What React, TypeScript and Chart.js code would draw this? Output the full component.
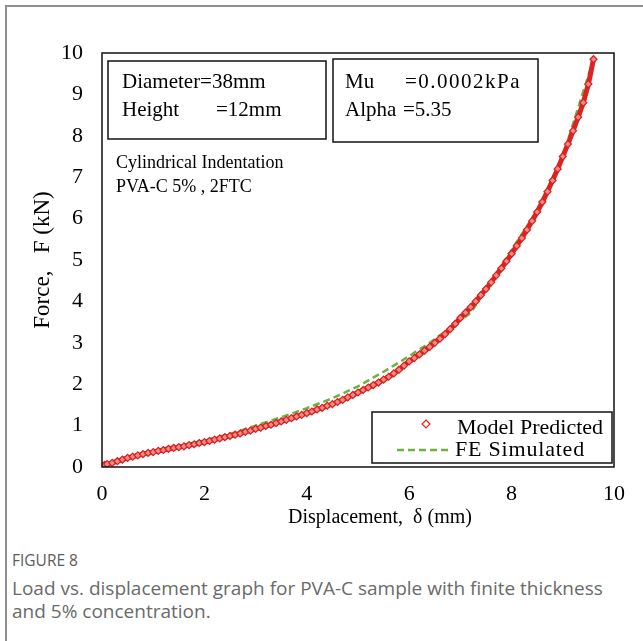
import React, { useEffect, useRef } from 'react';
import { Chart, registerables } from 'chart.js';

Chart.register(...registerables);

// Model Predicted (red diamonds)
const modelX = [0, 0.05, 0.1, 0.2, 0.3, 0.4, 0.5, 0.6, 0.7, 0.8, 0.9, 1.0, 1.1, 1.2, 1.3, 1.4, 1.5, 1.6, 1.7, 1.8, 1.9, 2.0, 2.1, 2.2, 2.3, 2.4, 2.5, 2.6, 2.7, 2.8, 2.9, 3.0, 3.1, 3.2, 3.3, 3.4, 3.5, 3.6, 3.7, 3.8, 3.9, 4.0, 4.1, 4.2, 4.3, 4.4, 4.5, 4.6, 4.7, 4.8, 4.9, 5.0, 5.1, 5.2, 5.3, 5.4, 5.5, 5.6, 5.7, 5.8, 5.9, 6.0, 6.1, 6.2, 6.3, 6.4, 6.5, 6.6, 6.7, 6.8, 6.9, 7.0, 7.1, 7.2, 7.3, 7.4, 7.5, 7.6, 7.7, 7.8, 7.9, 8.0, 8.1, 8.2, 8.3, 8.4, 8.5, 8.6, 8.7, 8.8, 8.9, 9.0, 9.1, 9.2, 9.3, 9.4, 9.5, 9.6];
const modelY = [0.02, 0.05, 0.07, 0.1, 0.14, 0.18, 0.22, 0.25, 0.28, 0.31, 0.34, 0.36, 0.39, 0.41, 0.44, 0.46, 0.48, 0.5, 0.53, 0.55, 0.58, 0.6, 0.63, 0.66, 0.69, 0.72, 0.75, 0.78, 0.81, 0.85, 0.88, 0.92, 0.95, 0.99, 1.02, 1.06, 1.1, 1.14, 1.18, 1.22, 1.26, 1.3, 1.34, 1.39, 1.43, 1.48, 1.52, 1.57, 1.62, 1.68, 1.74, 1.8, 1.86, 1.92, 1.98, 2.04, 2.11, 2.18, 2.26, 2.35, 2.45, 2.55, 2.63, 2.72, 2.81, 2.9, 3.0, 3.1, 3.21, 3.33, 3.46, 3.6, 3.73, 3.86, 4.0, 4.15, 4.3, 4.46, 4.63, 4.8, 4.97, 5.15, 5.34, 5.53, 5.73, 5.94, 6.16, 6.4, 6.65, 6.92, 7.2, 7.5, 7.8, 8.12, 8.45, 8.8, 9.25, 9.85];

// FE Simulated (green dashed)
const feX = [0, 0.5, 1.0, 1.5, 2.0, 2.5, 3.0, 3.5, 4.0, 4.5, 5.0, 5.5, 6.0, 6.4, 7.2, 8.5, 9.0, 9.6];
const feY = [0, 0.2, 0.36, 0.5, 0.64, 0.8, 1.0, 1.2, 1.42, 1.66, 1.95, 2.3, 2.68, 3.0, 3.72, 6.2, 7.5, 9.85];

const xTicks = [0, 2, 4, 6, 8, 10];
const yTicks = [0, 1, 2, 3, 4, 5, 6, 7, 8, 9, 10];

const seriesNames = ['Model Predicted', 'FE Simulated'];
const xTitle = 'Displacement,  \u03b4 (mm)';
const yTitle = 'Force,   F (kN)';
const boxLeftLines = [['Diameter=38mm', ''], ['Height', '=12mm']];
const boxRightLines = [['Mu', '=0.0002kPa'], ['Alpha', '=5.35']];
const noteLines = ['Cylindrical Indentation', 'PVA-C 5% , 2FTC'];

const SERIF = '"Liberation Serif", "Times New Roman", serif';
const RED = '#dd2320';
const GREEN = '#6fb043';

const annotPlugin = {
  id: 'annot',
  afterDatasetsDraw(chart: any) {
    const { ctx, chartArea: a } = chart;
    ctx.save();
    // plot frame
    ctx.strokeStyle = '#111';
    ctx.lineWidth = 1.5;
    ctx.strokeRect(a.left, a.top, a.right - a.left, a.bottom - a.top);

    // box 1
    ctx.fillStyle = '#fff';
    ctx.fillRect(108, 61, 218, 78);
    ctx.strokeRect(108, 61, 218, 78);
    // box 2
    ctx.fillRect(333, 59, 205, 83);
    ctx.strokeRect(333, 59, 205, 83);

    ctx.fillStyle = '#000';
    ctx.textBaseline = 'middle';
    ctx.textAlign = 'left';
    ctx.font = `21px ${SERIF}`;
    ctx.fillText(boxLeftLines[0][0], 122, 82);
    ctx.fillText(boxLeftLines[1][0], 122, 110);
    ctx.fillText(boxLeftLines[1][1], 216, 110);
    ctx.fillText(boxRightLines[0][0], 345, 82);
    ctx.fillText(boxRightLines[1][0], 345, 110);
    ctx.fillText(boxRightLines[1][1], 403, 110);
    (ctx as any).letterSpacing = '1.5px';
    ctx.fillText(boxRightLines[0][1], 405, 82);
    (ctx as any).letterSpacing = '0px';

    ctx.font = `18px ${SERIF}`;
    ctx.fillText(noteLines[0], 116, 163);
    ctx.fillText(noteLines[1], 116, 187);

    // legend
    ctx.fillStyle = '#fff';
    ctx.fillRect(372, 412, 240, 51);
    ctx.strokeStyle = '#111';
    ctx.lineWidth = 1.5;
    ctx.strokeRect(372, 412, 240, 51);
    // diamond marker
    ctx.strokeStyle = RED;
    ctx.lineWidth = 1.2;
    ctx.beginPath();
    ctx.moveTo(426, 420);
    ctx.lineTo(430, 424);
    ctx.lineTo(426, 428);
    ctx.lineTo(422, 424);
    ctx.closePath();
    ctx.stroke();
    // dashed line
    ctx.strokeStyle = GREEN;
    ctx.lineWidth = 2.5;
    ctx.setLineDash([7, 4]);
    ctx.beginPath();
    ctx.moveTo(397, 450);
    ctx.lineTo(452, 450);
    ctx.stroke();
    ctx.setLineDash([]);

    ctx.fillStyle = '#000';
    ctx.font = `22px ${SERIF}`;
    ctx.fillText(seriesNames[0], 457, 428);
    (ctx as any).letterSpacing = '0.8px';
    ctx.fillText(seriesNames[1], 455, 450);
    (ctx as any).letterSpacing = '0px';

    // axis titles
    ctx.textAlign = 'center';
    ctx.font = `20px ${SERIF}`;
    ctx.fillText(xTitle, 380, 518);
    ctx.font = `23px ${SERIF}`;
    ctx.translate(43, 260);
    ctx.rotate(-Math.PI / 2);
    ctx.fillText(yTitle, 0, 0);
    ctx.restore();
  },
};

function ChartCanvas() {
  const ref = useRef<HTMLCanvasElement | null>(null);
  useEffect(() => {
    if (!ref.current) return;
    const chart = new Chart(ref.current, {
      type: 'scatter',
      data: {
        datasets: [
          {
            label: seriesNames[0],
            data: modelX.map((x, i) => ({ x, y: modelY[i] })),
            showLine: true,
            borderColor: RED,
            borderWidth: 5,
            pointStyle: 'rectRot',
            pointRadius: 3.5,
            pointBorderWidth: 1.2,
            pointBorderColor: '#d8201c',
            pointBackgroundColor: '#f08a88',
            order: 1,
          },
          {
            label: seriesNames[1],
            data: feX.map((x, i) => ({ x, y: feY[i] })),
            showLine: true,
            borderColor: GREEN,
            borderWidth: 2.5,
            borderDash: [7, 4],
            pointRadius: 0,
            order: 2,
          },
        ],
      },
      options: {
        responsive: false,
        animation: false,
        layout: { padding: { left: 0, top: 53, right: 29, bottom: 0 } },
        plugins: { legend: { display: false }, tooltip: { enabled: false } },
        scales: {
          x: {
            type: 'linear',
            min: 0,
            max: 10,
            grid: { display: false, drawTicks: false },
            border: { display: false },
            afterBuildTicks: (s: any) => { s.ticks = xTicks.map((v) => ({ value: v })); },
            afterFit: (s: any) => { s.height = 78; },
            ticks: { color: '#000', font: { family: SERIF, size: 22 }, padding: 14, maxRotation: 0 },
          },
          y: {
            type: 'linear',
            min: 0,
            max: 10,
            grid: { display: false, drawTicks: false },
            border: { display: false },
            afterBuildTicks: (s: any) => { s.ticks = yTicks.map((v) => ({ value: v })); },
            afterFit: (s: any) => { s.width = 102; },
            ticks: { color: '#000', font: { family: SERIF, size: 22 }, padding: 19 },
          },
        },
      },
      plugins: [annotPlugin],
    });
    return () => chart.destroy();
  }, []);
  return <canvas ref={ref} width={643} height={545} style={{ position: 'absolute', left: 0, top: 0 }} />;
}

export default function App() {
  return (
    <div style={{ position: 'absolute', left: 0, top: 0, width: 643, height: 641, background: '#fff', overflow: 'hidden' }}>
      <div style={{ position: 'absolute', left: 5, top: 5, width: 800, height: 800, border: '2px solid #8f8f8f' }} />
      <ChartCanvas />
      <div style={{ position: 'absolute', left: 12, top: 549, fontFamily: '"Open Sans", sans-serif' }}>
        <div style={{ fontSize: 15.5, lineHeight: '22px', color: '#5c5c5c' }}>FIGURE 8</div>
        <div style={{ fontSize: 19, lineHeight: '23px', color: '#6a6a6a', marginTop: 6, whiteSpace: 'nowrap' }}>
          Load vs. displacement graph for PVA-C sample with finite thickness
          <br />
          and 5% concentration.
        </div>
      </div>
    </div>
  );
}
